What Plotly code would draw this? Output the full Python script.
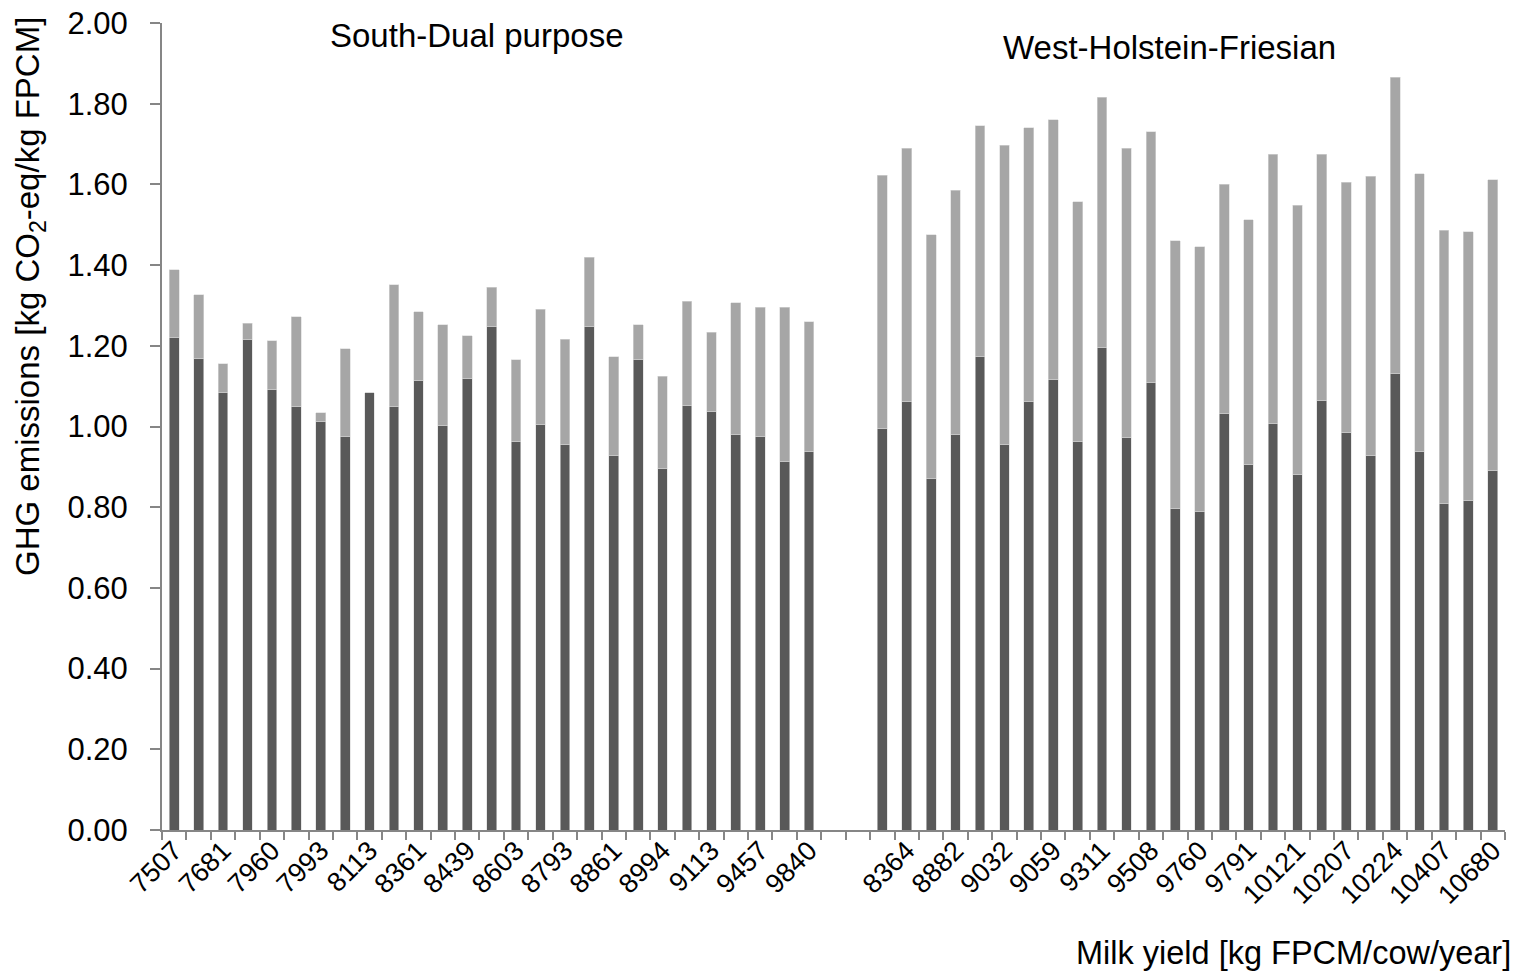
import plotly.graph_objects as go

# Milk yield labels (every other farm is labelled on the axis)
south_labels = ["7507", "7681", "7960", "7993", "8113", "8361", "8439",
                "8603", "8793", "8861", "8994", "9113", "9457", "9840"]
west_labels = ["8364", "8882", "9032", "9059", "9311", "9508", "9760",
               "9791", "10121", "10207", "10224", "10407", "10680"]

# GHG emissions per farm, kg CO2-eq / kg FPCM: lower (dark) and upper (light) part
south_dark = [1.221, 1.169, 1.084, 1.216, 1.092, 1.049, 1.012, 0.974, 1.084,
              1.049, 1.115, 1.003, 1.119, 1.248, 0.964, 1.005, 0.955, 1.248,
              0.928, 1.167, 0.896, 1.053, 1.038, 0.979, 0.974, 0.914, 0.939]
south_light = [0.168, 0.157, 0.071, 0.040, 0.121, 0.223, 0.022, 0.219, 0.000,
               0.302, 0.169, 0.249, 0.106, 0.097, 0.202, 0.286, 0.261, 0.172,
               0.245, 0.085, 0.228, 0.258, 0.195, 0.328, 0.321, 0.381, 0.321]
west_dark = [0.995, 1.061, 0.870, 0.980, 1.173, 0.956, 1.061, 1.116, 0.964,
             1.196, 0.972, 1.108, 0.796, 0.789, 1.033, 0.905, 1.007, 0.882,
             1.065, 0.986, 0.929, 1.131, 0.937, 0.809, 0.816, 0.890]
west_light = [0.628, 0.629, 0.605, 0.605, 0.572, 0.741, 0.680, 0.644, 0.593,
              0.620, 0.718, 0.622, 0.664, 0.656, 0.568, 0.608, 0.668, 0.666,
              0.610, 0.619, 0.691, 0.735, 0.690, 0.678, 0.667, 0.722]

GAP = 2  # empty slots between the two regions

n_s = len(south_dark)
n_w = len(west_dark)
x_south = list(range(1, n_s + 1))
x_west = list(range(n_s + GAP + 1, n_s + GAP + n_w + 1))
n_total = n_s + GAP + n_w

x_all = x_south + x_west
dark_all = south_dark + west_dark
light_all = south_light + west_light

# every other farm carries a label (odd slots along the whole axis)
tick_pos = x_south[::2] + x_west[1::2]
tick_text = south_labels + west_labels

DARK = "#595959"
LIGHT = "#a6a6a6"
AXIS = "#868686"
FONT = "Liberation Sans, Arial, sans-serif"

fig = go.Figure()
fig.add_trace(go.Bar(x=x_all, y=dark_all, marker=dict(color=DARK, line=dict(color="#d9d9d9", width=0.6)),
                     width=0.4, showlegend=False, hoverinfo="y"))
fig.add_trace(go.Bar(x=x_all, y=light_all, marker=dict(color=LIGHT, line=dict(color="#d9d9d9", width=0.6)),
                     width=0.4, showlegend=False, hoverinfo="y"))

fig.update_layout(
    barmode="stack",
    width=1529, height=974,
    margin=dict(l=162, r=24, t=23, b=144, autoexpand=False),
    paper_bgcolor="white", plot_bgcolor="white",
    font=dict(family=FONT, color="black"),
    xaxis=dict(
        range=[0.5, n_total + 0.5],
        automargin=False,
        showline=True, linecolor=AXIS, linewidth=2,
        showgrid=False, zeroline=False,
        tickmode="array", tickvals=tick_pos, ticktext=tick_text,
        ticks="", tickangle=-45,
        ticklabelstandoff=-8,
        tickfont=dict(size=27, family=FONT, color="black"),
        minor=dict(tickmode="array",
                   tickvals=[i + 0.5 for i in range(0, n_total + 1)],
                   ticks="outside", ticklen=8, tickwidth=1.5, tickcolor=AXIS,
                   showgrid=False),
    ),
    yaxis=dict(
        range=[0, 2.0],
        automargin=False,
        showline=True, linecolor=AXIS, linewidth=2,
        showgrid=False, zeroline=False,
        tickmode="array", tickvals=[i * 0.2 for i in range(11)],
        tickformat=".2f",
        ticks="outside", ticklen=10, tickwidth=1.5, tickcolor=AXIS,
        ticklabelstandoff=16,
        tickfont=dict(size=31, family=FONT, color="black"),
    ),
    annotations=[
        dict(text="South-Dual purpose", xref="paper", yref="paper",
             x=0.2346, y=0.984, xanchor="center", yanchor="middle",
             showarrow=False, font=dict(size=33, family=FONT)),
        dict(text="West-Holstein-Friesian", xref="paper", yref="paper",
             x=0.750, y=0.970, xanchor="center", yanchor="middle",
             showarrow=False, font=dict(size=33, family=FONT)),
        dict(text="Milk yield [kg FPCM/cow/year]", xref="paper", yref="paper",
             x=1.006, y=-0.152, xanchor="right", yanchor="middle",
             showarrow=False, font=dict(size=32.5, family=FONT)),
        dict(text="GHG emissions [kg CO<sub>2</sub>-eq/kg FPCM]", xref="paper", yref="paper",
             x=-0.0983, y=0.6617, xanchor="center", yanchor="middle", textangle=-90,
             showarrow=False, font=dict(size=33, family=FONT)),
    ],
)

fig.write_html("out.html")
